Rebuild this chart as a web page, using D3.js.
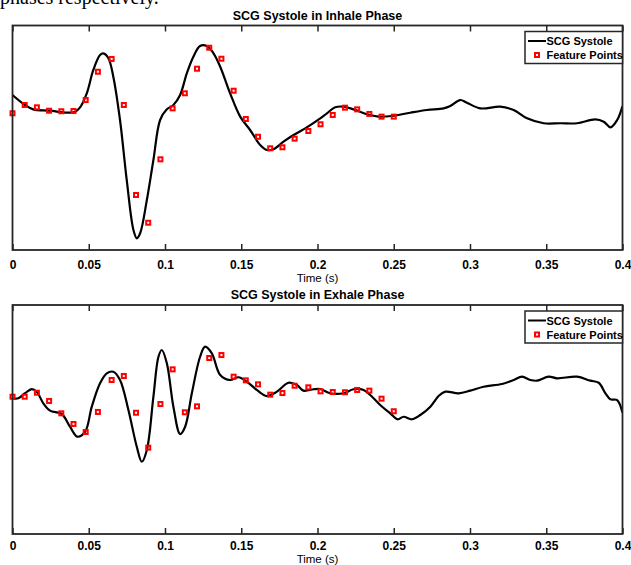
<!DOCTYPE html>
<html>
<head>
<meta charset="utf-8">
<script src="https://cdn.jsdelivr.net/npm/d3@7"></script>
<style>
  body { margin: 0; background: #fff; }
  svg { display: block; }
</style>
</head>
<body>
<div id="chart"></div>
<script>
// x ticks (s)
const xTicks = [0, 0.05, 0.1, 0.15, 0.2, 0.25, 0.3, 0.35, 0.4];

// times of the feature points (s)
const featureTimes = [0, 0.008, 0.016, 0.024, 0.032, 0.040, 0.048, 0.056, 0.065, 0.073,
  0.081, 0.089, 0.097, 0.105, 0.113, 0.121, 0.129, 0.137, 0.145, 0.153, 0.161, 0.169,
  0.177, 0.185, 0.194, 0.202, 0.210, 0.218, 0.226, 0.234, 0.242, 0.250];

// inhale phase, [time, amplitude]
const inhaleCurve = [
  [0, 0.381], [0.0082, 0.292], [0.0136, 0.253], [0.0246, 0.241], [0.0356, 0.223],
  [0.041, 0.232], [0.0443, 0.271], [0.0487, 0.396], [0.053, 0.604], [0.0574, 0.737],
  [0.0596, 0.752], [0.0629, 0.708], [0.0661, 0.544], [0.0705, 0.158], [0.0749, -0.376],
  [0.0793, -0.822], [0.0815, -0.896], [0.0837, -0.851], [0.0881, -0.555], [0.0924, -0.198],
  [0.0968, 0.158], [0.1012, 0.253], [0.1055, 0.292], [0.1099, 0.381], [0.1143, 0.574],
  [0.1186, 0.722], [0.123, 0.817], [0.1274, 0.817], [0.1318, 0.752], [0.1362, 0.633],
  [0.1427, 0.396], [0.1493, 0.188], [0.1558, 0.069], [0.1624, -0.064], [0.1668, -0.109],
  [0.1711, -0.103], [0.1777, -0.035], [0.1843, 0.024], [0.193, 0.093], [0.2018, 0.173],
  [0.2062, 0.218], [0.2116, 0.271], [0.2171, 0.277], [0.2236, 0.253], [0.2324, 0.209],
  [0.24, 0.188], [0.2488, 0.194], [0.2608, 0.223], [0.2718, 0.247], [0.2827, 0.262],
  [0.2871, 0.283], [0.2936, 0.336], [0.298, 0.312], [0.3068, 0.262], [0.3199, 0.277],
  [0.3286, 0.247], [0.3374, 0.173], [0.3483, 0.129], [0.3593, 0.129], [0.3702, 0.129],
  [0.3822, 0.164], [0.3877, 0.143], [0.3921, 0.093], [0.3965, 0.158], [0.4, 0.283]
];
const inhaleFeatures = [0.218, 0.292, 0.271, 0.241, 0.236, 0.238, 0.336, 0.588, 0.702, 0.292,
  -0.510, -0.757, -0.192, 0.262, 0.396, 0.615, 0.802, 0.704, 0.419, 0.167, 0.009, -0.094,
  -0.085, -0.008, 0.060, 0.120, 0.203, 0.268, 0.253, 0.212, 0.188, 0.188];

// exhale phase, [time, amplitude]
const exhaleCurve = [
  [0, 0.185], [0.0038, 0.185], [0.0082, 0.229], [0.0126, 0.266], [0.0159, 0.243],
  [0.0202, 0.141], [0.0246, 0.077], [0.0323, 0.048], [0.0377, -0.063], [0.0425, -0.150],
  [0.0476, -0.107], [0.052, 0.112], [0.0574, 0.316], [0.0618, 0.403], [0.0661, 0.417],
  [0.0705, 0.345], [0.076, 0.083], [0.0815, -0.238], [0.0848, -0.369], [0.0881, -0.266],
  [0.0924, 0.199], [0.0957, 0.548], [0.0979, 0.607], [0.1012, 0.491], [0.1055, 0.112],
  [0.1099, -0.127], [0.1132, -0.063], [0.1176, 0.229], [0.123, 0.548], [0.1263, 0.636],
  [0.1307, 0.578], [0.1362, 0.389], [0.1427, 0.345], [0.1482, 0.369], [0.1537, 0.330],
  [0.1602, 0.258], [0.1668, 0.205], [0.1734, 0.243], [0.181, 0.321], [0.1865, 0.301],
  [0.1908, 0.252], [0.1974, 0.264], [0.2018, 0.266], [0.2083, 0.229], [0.2171, 0.229],
  [0.2236, 0.264], [0.2302, 0.258], [0.2346, 0.214], [0.2411, 0.127], [0.2477, 0.054],
  [0.2525, 0.002], [0.2564, 0.024], [0.2619, 0.002], [0.2674, 0.039], [0.274, 0.112],
  [0.2794, 0.205], [0.2838, 0.243], [0.2925, 0.229], [0.3002, 0.252], [0.3089, 0.286],
  [0.321, 0.310], [0.3286, 0.345], [0.3341, 0.374], [0.3396, 0.345], [0.344, 0.339],
  [0.3516, 0.374], [0.3571, 0.360], [0.3702, 0.374], [0.3789, 0.339], [0.3844, 0.321],
  [0.3888, 0.229], [0.3921, 0.176], [0.3965, 0.170], [0.4, 0.059]
];
const exhaleFeatures = [0.199, 0.199, 0.234, 0.162, 0.054, -0.039, -0.109, 0.066, 0.345, 0.380,
  0.059, -0.246, 0.135, 0.438, 0.063, 0.115, 0.537, 0.563, 0.374, 0.342, 0.307, 0.217,
  0.231, 0.295, 0.281, 0.246, 0.240, 0.238, 0.258, 0.252, 0.182, 0.072];

const width = 631;
const height = 565;
const font = "Liberation Sans, Arial, Helvetica, sans-serif";
const axisColor = "#262626";

const svg = d3.select("#chart")
  .append("svg")
  .attr("width", width)
  .attr("height", height);

// caption text from the page above, cut off by the crop
svg.append("text")
  .attr("x", 0)
  .attr("y", 4)
  .attr("font-family", "Liberation Serif, Times New Roman, serif")
  .attr("font-size", 20)
  .attr("fill", "#000")
  .text("phases respectively.");

const xScale = d3.scaleLinear().domain([0, 0.4]).range([12.5, 622.5]);

function panel(id, title, curve, features, top, bottom, tickPad, labelGap) {
  const yScale = d3.scaleLinear().domain([-1, 1]).range([bottom, top]);
  const g = svg.append("g");

  g.append("clipPath").attr("id", id)
    .append("rect")
    .attr("x", xScale(0)).attr("y", top)
    .attr("width", xScale(0.4) - xScale(0)).attr("height", bottom - top);

  // curve
  const line = d3.line()
    .x((d) => xScale(d[0]))
    .y((d) => yScale(d[1]))
    .curve(d3.curveCatmullRom.alpha(0.5));

  g.append("path")
    .datum(curve)
    .attr("clip-path", `url(#${id})`)
    .attr("fill", "none")
    .attr("stroke", "#000")
    .attr("stroke-width", 2.2)
    .attr("d", line);

  // feature points
  const pts = featureTimes.map((t, i) => [t, features[i]]);
  g.append("g")
    .selectAll("rect")
    .data(pts)
    .join("rect")
    .attr("x", (d) => xScale(d[0]) - 2)
    .attr("y", (d) => yScale(d[1]) - 2)
    .attr("width", 4)
    .attr("height", 4)
    .attr("fill", "none")
    .attr("stroke", "#ff0000")
    .attr("stroke-width", 2);

  // axes: ticks on bottom and top, inward
  const xAxisBottom = d3.axisBottom(xScale).tickValues(xTicks)
    .tickSizeInner(-6).tickSizeOuter(0).tickPadding(tickPad)
    .tickFormat((d) => d3.format("")(+d.toFixed(2)));
  const xAxisTop = d3.axisTop(xScale).tickValues(xTicks)
    .tickSizeInner(-6).tickSizeOuter(0).tickFormat("");

  const ab = g.append("g")
    .attr("transform", `translate(0, ${bottom})`)
    .call(xAxisBottom);
  const at = g.append("g")
    .attr("transform", `translate(0, ${top})`)
    .call(xAxisTop);

  [ab, at].forEach((a) => {
    a.select(".domain").remove();
    a.selectAll(".tick line").attr("stroke", axisColor).attr("stroke-width", 1.5);
  });
  ab.selectAll(".tick text")
    .attr("font-family", font)
    .attr("font-size", 12)
    .attr("font-weight", "bold")
    .attr("fill", "#000");

  // box
  g.append("rect")
    .attr("x", xScale(0)).attr("y", top)
    .attr("width", xScale(0.4) - xScale(0)).attr("height", bottom - top)
    .attr("fill", "none")
    .attr("stroke", axisColor)
    .attr("stroke-width", 1.8);

  // title and x label
  g.append("text")
    .attr("x", (xScale(0) + xScale(0.4)) / 2)
    .attr("y", top - 6)
    .attr("text-anchor", "middle")
    .attr("font-family", font)
    .attr("font-size", 12.5)
    .attr("font-weight", "bold")
    .text(title);

  g.append("text")
    .attr("x", (xScale(0) + xScale(0.4)) / 2)
    .attr("y", bottom + labelGap)
    .attr("text-anchor", "middle")
    .attr("font-family", font)
    .attr("font-size", 11.5)
    .text("Time (s)");

  // legend
  const lx = 525, ly = top + 6, lw = 97.5, lh = 32;
  const lg = g.append("g");
  lg.append("rect")
    .attr("x", lx).attr("y", ly).attr("width", lw).attr("height", lh)
    .attr("fill", "#fff")
    .attr("stroke", axisColor)
    .attr("stroke-width", 1.5);
  lg.append("line")
    .attr("x1", lx + 3).attr("x2", lx + 21)
    .attr("y1", ly + 9.5).attr("y2", ly + 9.5)
    .attr("stroke", "#000").attr("stroke-width", 2);
  lg.append("rect")
    .attr("x", lx + 10).attr("y", ly + 21.5)
    .attr("width", 4).attr("height", 4)
    .attr("fill", "none").attr("stroke", "#ff0000").attr("stroke-width", 2);
  const names = ["SCG Systole", "Feature Points"];
  lg.selectAll("text.leg")
    .data(names)
    .join("text")
    .attr("class", "leg")
    .attr("x", lx + 21.5)
    .attr("y", (d, i) => ly + 13.5 + i * 14)
    .attr("font-family", font)
    .attr("font-size", 11)
    .attr("font-weight", "bold")
    .text((d) => d);
}

panel("clipTop", "SCG Systole in Inhale Phase", inhaleCurve, inhaleFeatures, 25.5, 250, 10, 32);
panel("clipBot", "SCG Systole in Exhale Phase", exhaleCurve, exhaleFeatures, 305, 534, 7.5, 29);
</script>
</body>
</html>
